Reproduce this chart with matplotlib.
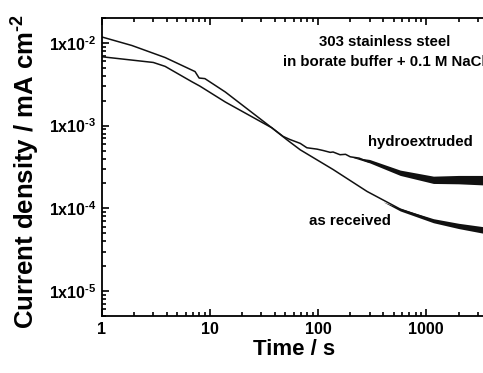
import matplotlib
matplotlib.use('Agg')
import matplotlib.pyplot as plt
from matplotlib.ticker import FixedLocator, FixedFormatter, LogLocator, NullFormatter

plt.rcParams['font.family'] = ['Liberation Sans', 'DejaVu Sans']
plt.rcParams['font.weight'] = 'bold'
plt.rcParams['mathtext.fontset'] = 'custom'
plt.rcParams['mathtext.rm'] = 'Liberation Sans:bold'
plt.rcParams['mathtext.bf'] = 'Liberation Sans:bold'
plt.rcParams['mathtext.it'] = 'Liberation Sans:bold'

# as received (starts higher, ends lower)
t_asrec = [1, 1.9, 3.86, 7.3, 7.96, 9.0, 13.9, 37.5, 52, 68.6, 138, 285, 577, 1170, 2000, 3400]
i_asrec = [1.18e-2, 9.3e-3, 6.65e-3, 4.5e-3, 3.76e-3, 3.7e-3, 2.55e-3, 9.4e-4, 6.7e-4,
           5.1e-4, 2.95e-4, 1.6e-4, 9.8e-5, 7.1e-5, 6.2e-5, 5.5e-5]

# hydroextruded
t_hydro = [1, 3.0, 3.86, 6.8, 8.1, 13.9, 37.5, 47.7, 55, 68.6, 79, 98, 112, 130, 138,
           160, 180, 199, 240, 285, 340, 400, 480, 577, 700, 826, 1000, 1170, 1500, 2090, 2600, 3400]
i_hydro = [6.8e-3, 5.8e-3, 5.2e-3, 3.4e-3, 3.0e-3, 1.93e-3, 9.4e-4, 7.4e-4, 6.8e-4, 6.1e-4,
           5.4e-4, 5.2e-4, 5.0e-4, 4.75e-4, 4.8e-4, 4.45e-4, 4.5e-4, 4.2e-4, 4.05e-4, 3.7e-4, 3.5e-4,
           3.2e-4, 3.0e-4, 2.7e-4, 2.5e-4, 2.35e-4, 2.3e-4, 2.2e-4, 2.25e-4, 2.25e-4, 2.2e-4, 2.2e-4]

# noise envelopes at long times
t_hband = [200, 300, 577, 1170, 2000, 3400]
hband_lo = [4.2e-4, 3.55e-4, 2.5e-4, 2.0e-4, 1.98e-4, 1.92e-4]
hband_hi = [4.2e-4, 3.9e-4, 2.9e-4, 2.45e-4, 2.5e-4, 2.5e-4]
t_aband = [400, 577, 1170, 2000, 3400]
aband_lo = [1.2e-4, 9.3e-5, 6.7e-5, 5.7e-5, 5.0e-5]
aband_hi = [1.2e-4, 1.0e-4, 7.5e-5, 6.6e-5, 6.0e-5]

yticks = [1e-5, 1e-4, 1e-3, 1e-2]
ylabels = ['1x10$^{\u2010' + e + '}$' for e in ['5', '4', '3', '2']]

fig = plt.figure(figsize=(4.83, 3.73), dpi=100)
ax = fig.add_axes([0.2106, 0.1528, 0.796, 0.799])

ax.plot(t_asrec, i_asrec, color='#111111', lw=1.1)
ax.plot(t_hydro, i_hydro, color='#111111', lw=1.1)
ax.fill_between(t_hband, hband_lo, hband_hi, color='#111111', lw=0)
ax.fill_between(t_aband, aband_lo, aband_hi, color='#111111', lw=0)

ax.set_xscale('log')
ax.set_yscale('log')
ax.set_xlim(1, 3600)
ax.set_ylim(5e-6, 2e-2)

ax.yaxis.set_major_locator(FixedLocator(yticks))
ax.yaxis.set_major_formatter(FixedFormatter(ylabels))
ax.yaxis.set_minor_locator(LogLocator(base=10, subs=range(2, 10), numticks=20))
ax.yaxis.set_minor_formatter(NullFormatter())
ax.xaxis.set_major_locator(FixedLocator([1, 10, 100, 1000]))
ax.xaxis.set_major_formatter(FixedFormatter(['1', '10', '100', '1000']))
ax.xaxis.set_minor_locator(LogLocator(base=10, subs=range(2, 10), numticks=20))
ax.xaxis.set_minor_formatter(NullFormatter())

ax.tick_params(which='both', direction='in', top=True, right=False, width=1.2)
ax.tick_params(which='major', length=5, labelsize=11.5, pad=4)
ax.tick_params(which='minor', length=3)
for s in ax.spines.values():
    s.set_linewidth(1.3)
ax.spines['right'].set_visible(False)

ax.set_xlabel('Time / s', fontsize=16, fontweight='bold', labelpad=2)
ax.set_ylabel('Current density / mA cm$^{\u20102}$', fontsize=18.5, fontweight='bold')
ax.yaxis.set_label_coords(-0.155, 0.485)

ax.text(0.735, 0.918, '303 stainless steel', transform=ax.transAxes, ha='center', va='center', fontsize=10.8, fontweight='bold')
ax.text(0.735, 0.852, 'in borate buffer + 0.1 M NaCl', transform=ax.transAxes, ha='center', va='center', fontsize=10.8, fontweight='bold')
ax.text(0.83, 0.585, 'hydroextruded', transform=ax.transAxes, ha='center', va='center', fontsize=10.8, fontweight='bold')
ax.text(0.645, 0.32, 'as received', transform=ax.transAxes, ha='center', va='center', fontsize=10.8, fontweight='bold')

fig.savefig('out.png', dpi=100)
